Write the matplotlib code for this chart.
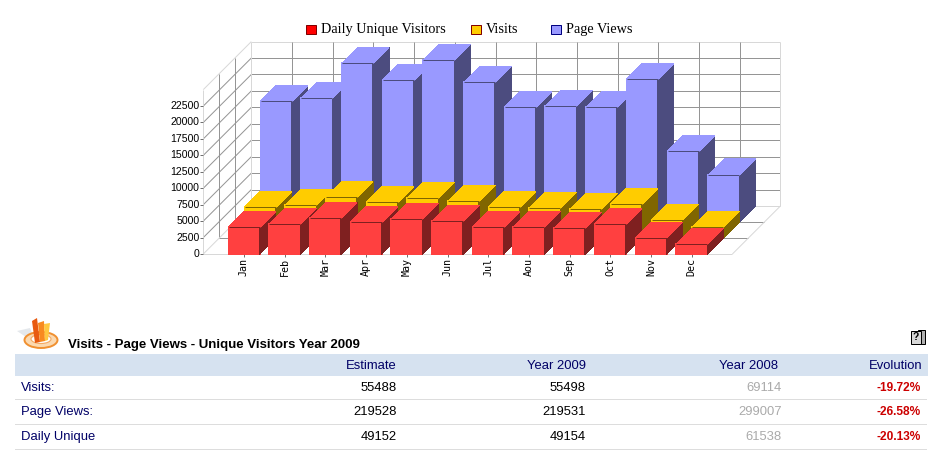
import matplotlib
matplotlib.use("Agg")
import matplotlib.pyplot as plt
from matplotlib.patches import Polygon, Rectangle, Ellipse

months = ['Jan', 'Feb', 'Mar', 'Apr', 'May', 'Jun', 'Jul', 'Aou', 'Sep', 'Oct', 'Nov', 'Dec']
unique_visitors = [4059, 4515, 5427, 4819, 5275, 4971, 4059, 4059, 3907, 4515, 2387, 1475]
visits = [4667, 4971, 6188, 5427, 6036, 5579, 4667, 4515, 4363, 5123, 2691, 1627]
page_views = [18350, 18806, 24127, 21543, 24584, 21239, 17438, 17590, 17438, 21695, 10749, 7145]
y_ticks = [0, 2500, 5000, 7500, 10000, 12500, 15000, 17500, 20000, 22500]
y_max = 25000

row_names = ['Visits:', 'Page Views:', 'Daily Unique']
col_names = ['Estimate', 'Year 2009', 'Year 2008', 'Evolution']
estimate = ['55488', '219528', '49152']
year_2009 = ['55498', '219531', '49154']
year_2008 = ['69114', '299007', '61538']
evolution = ['-19.72%', '-26.58%', '-20.13%']

# chart frame in pixels
X0, Y0 = 203.3, 254.0
SLOT = 40.7
PX_PER_VALUE = 164.4 / y_max
DEPTH = 16.0
BAR_W = 31.0

GRID = '#959595'
EDGE = '#D8D8D8'
TICK = '#707070'
THIN = 0.72  # one pixel at dpi 100


def pt(slot, row, value=0):
    # slot along x axis, row along depth axis, value up
    return (X0 + slot * SLOT + row * DEPTH, Y0 - row * DEPTH - value * PX_PER_VALUE)


def line(ax, a, b, color, lw=THIN, z=1):
    ax.plot([a[0], b[0]], [a[1], b[1]], color=color, lw=lw, zorder=z,
            solid_capstyle='butt', antialiased=True)


def poly(ax, pts, color, z):
    ax.add_patch(Polygon(pts, closed=True, facecolor=color, edgecolor=color,
                         lw=0.2, zorder=z, antialiased=False))


def draw_box(ax, slot, row, value, front, side, z):
    left = X0 + slot * SLOT - BAR_W / 2 + row * DEPTH
    right = left + BAR_W
    base = Y0 - row * DEPTH
    top = base - value * PX_PER_VALUE
    poly(ax, [(left, base), (right, base), (right, top), (left, top)], front, z)
    poly(ax, [(right, base), (right + DEPTH, base - DEPTH), (right + DEPTH, top - DEPTH), (right, top)], side, z)
    poly(ax, [(left, top), (right, top), (right + DEPTH, top - DEPTH), (left + DEPTH, top - DEPTH)], front, z)
    line(ax, (left, top), (right, top), side, THIN, z)


fig = plt.figure(figsize=(9.4, 4.66), dpi=100)
ax = fig.add_axes([0, 0, 1, 1])
ax.set_xlim(0, 940)
ax.set_ylim(466, 0)
ax.axis('off')

# walls and grid
for v in y_ticks[1:]:
    line(ax, pt(0, 0, v), pt(0, 3, v), GRID)
    line(ax, pt(0, 3, v), pt(13, 3, v), GRID)
line(ax, pt(0, 0, y_max), pt(0, 3, y_max), EDGE)
line(ax, pt(0, 3, y_max), pt(13, 3, y_max), EDGE)
line(ax, pt(0, 0), pt(0, 0, y_max), EDGE)
for r in [1, 2]:
    line(ax, pt(0, r), pt(0, r, y_max), GRID)
    line(ax, pt(0, r), pt(13, r), GRID)
line(ax, pt(0, 3), pt(0, 3, y_max), EDGE)
for s in range(1, 13):
    line(ax, pt(s, 3), pt(s, 3, y_max), GRID)
line(ax, pt(13, 3), pt(13, 3, y_max), EDGE)
line(ax, pt(0, 3), pt(13, 3), EDGE)
line(ax, pt(0, 0), pt(0, 3), EDGE)
line(ax, pt(13, 0), pt(13, 3), EDGE)
line(ax, pt(0, 0), pt(13, 0), EDGE)

# bars, back row first
series = [(page_views, 2, '#9999FF', '#4C4C7F'),
          (visits, 1, '#FFCC00', '#806600'),
          (unique_visitors, 0, '#FF4040', '#7F2020')]
z = 2
for values, row, front, side in series:
    for i, v in enumerate(values):
        draw_box(ax, i + 1, row, v, front, side, z)
        z += 1

# axis labels
for v in y_ticks:
    x, y = pt(0, 0, v)
    line(ax, (x - 3, y), (x, y), TICK)
    ax.text(x - 4, y, str(v), ha='right', va='center', fontsize=7.6,
            family='Liberation Sans', color='black')
for i, m in enumerate(months):
    x, y = pt(i + 1, 0)
    line(ax, (x, y), (x, y + 3), TICK)
    ax.text(x, y + 4, m, rotation=90, ha='center', va='top', fontsize=7.2,
            family='DejaVu Sans Mono', color='black')

# legend
legend_items = [('Daily Unique Visitors', 306, '#FF0000', '#800000'),
                ('Visits', 471, '#FFCC00', '#800000'),
                ('Page Views', 551, '#9999FF', '#000080')]
for label, lx, fc, ec in legend_items:
    ax.add_patch(Rectangle((lx, 24.5), 9.5, 9.5, facecolor=fc, edgecolor=ec, lw=THIN))
    ax.text(lx + 15, 29.5, label, ha='left', va='center', fontsize=10.3,
            family='Liberation Serif', color='black')

# small chart icon beside the table title
ax.add_patch(Polygon([(17, 331), (30, 328), (34, 338), (26, 337)], closed=True, facecolor='#E4E8EC', edgecolor='none'))
ax.add_patch(Ellipse((41, 340), 33, 16, facecolor='#FBD9B0', edgecolor='#F09030', lw=1.4))
ax.add_patch(Ellipse((41, 339), 20, 9, facecolor='#FFFFFF', edgecolor='#F4A860', lw=0.8))
ax.add_patch(Polygon([(32, 321), (37, 318), (40, 342), (35, 343)], closed=True, facecolor='#E85A10', edgecolor='none', zorder=3))
ax.add_patch(Polygon([(38, 323), (44, 321), (45, 341), (40, 342)], closed=True, facecolor='#F88A20', edgecolor='none', zorder=3))
ax.add_patch(Polygon([(44, 324), (50, 323), (48, 340), (45, 341)], closed=True, facecolor='#FFC840', edgecolor='none', zorder=3))

# help icon
ax.add_patch(Rectangle((918, 330), 6.5, 13.5, facecolor='#B0B0B0', edgecolor='black', lw=THIN))
ax.add_patch(Rectangle((911, 331), 10, 13, facecolor='#D8D8D8', edgecolor='black', lw=THIN))
ax.text(916, 337.5, '?', ha='center', va='center', fontsize=7.5, fontweight='bold',
        family='Liberation Sans', color='black', zorder=4)

# table
ax.text(68, 345, 'Visits - Page Views - Unique Visitors Year 2009', ha='left', va='center',
        fontsize=9.5, fontweight='bold', family='Liberation Sans', color='black')
ax.add_patch(Rectangle((15, 354), 913, 21.5, facecolor='#D6E2F0', edgecolor='none'))

header_x = [397, 586, 778, 922]
value_x = [397, 586, 782, 921]
row_y = [388, 412, 437]
line_y = [398.5, 423.5, 448.5]
NAVY = '#000066'
TABLE_SIZE = 9.4
for name, x in zip(col_names, header_x):
    ax.text(x, 366, name, ha='right', va='center', fontsize=TABLE_SIZE, family='Liberation Sans', color=NAVY)
for ly in line_y:
    ax.plot([15, 926], [ly, ly], color='#DDDDDD', lw=THIN)
for i, name in enumerate(row_names):
    y = row_y[i]
    ax.text(21, y, name, ha='left', va='center', fontsize=TABLE_SIZE, family='Liberation Sans', color=NAVY)
    ax.text(value_x[0], y, estimate[i], ha='right', va='center', fontsize=TABLE_SIZE, family='Liberation Sans', color='black')
    ax.text(value_x[1], y, year_2009[i], ha='right', va='center', fontsize=TABLE_SIZE, family='Liberation Sans', color='black')
    ax.text(value_x[2], y, year_2008[i], ha='right', va='center', fontsize=TABLE_SIZE, family='Liberation Sans', color='#AAAAAA')
    ax.text(value_x[3], y, evolution[i], ha='right', va='center', fontsize=8.6, fontweight='bold',
            family='Liberation Sans', color='#CC0000')

fig.savefig('out.png', dpi=100)
